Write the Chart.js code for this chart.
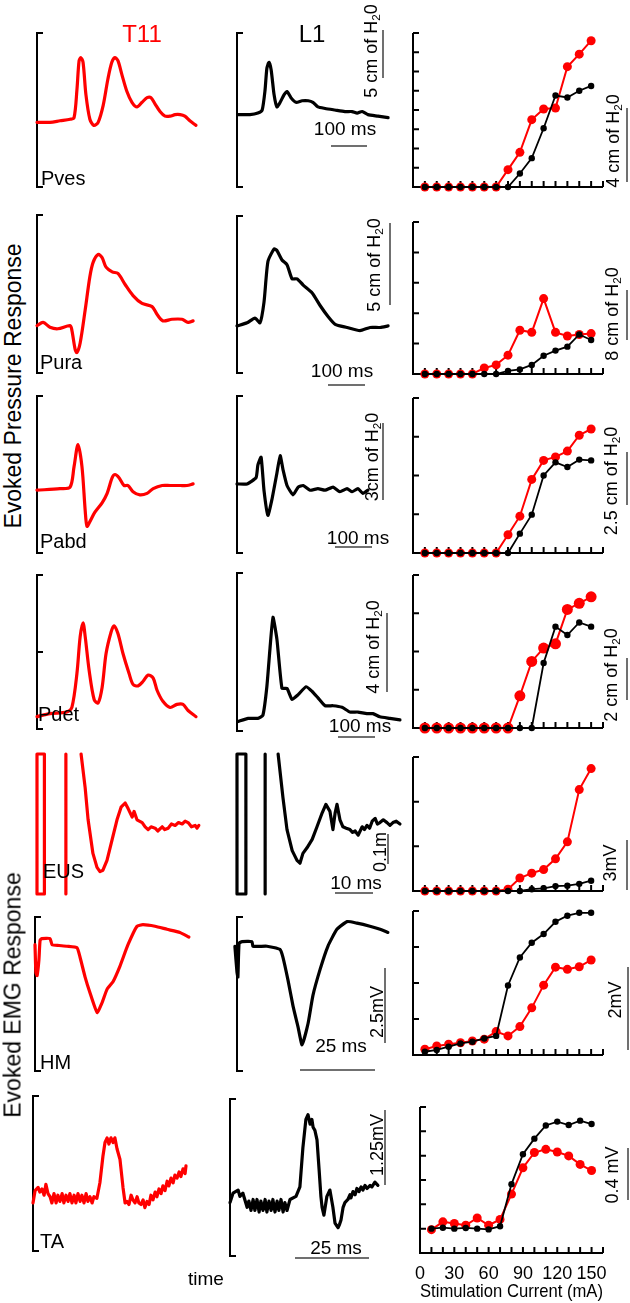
<!DOCTYPE html>
<html>
<head>
<meta charset="utf-8">
<script src="https://cdn.jsdelivr.net/npm/chart.js@4.4.0/dist/chart.umd.min.js"></script>
<style>
body { margin: 0; background: #fff; }
#fig { position: relative; width: 630px; height: 1303px; overflow: hidden; font-family: "Liberation Sans", Arial, sans-serif; color: #000; }
#fig canvas { position: absolute; }
.lbl { position: absolute; white-space: nowrap; line-height: 1; transform: translate(-50%, -50%); }
.lbl.left { transform: translate(0, -50%); }
.lbl.rot { transform: translate(-50%, -50%) rotate(-90deg); }
.bar { position: absolute; background: #707070; }
sub { font-size: 65%; vertical-align: -0.25em; line-height: 0; }
</style>
</head>
<body>
<div id="fig"></div>
<script>
const RED = '#ff0000';
const FONT = '"Liberation Sans", Arial, sans-serif';

// stimulation currents (mA) for the recruitment curves
const currents = [10, 20, 30, 40, 50, 60, 70, 80, 90, 100, 110, 120, 130, 140, 150];

// recruitment curves (units = y-axis tick divisions)
const pvesBlack = [0, 0, 0, 0, 0, 0, 0, 0, 0.7, 1.5, 3.05, 4.75, 4.65, 5.0, 5.25];
const pvesRed   = [0, 0, 0, 0, 0, 0, 0, 0.9, 1.8, 3.5, 4.05, 4.1, 6.25, 6.9, 7.6];
const puraBlack = [0, 0, 0, 0, 0, 0, 0, 0.1, 0.15, 0.3, 0.6, 0.77, 0.9, 1.3, 1.12];
const puraRed   = [0, 0, 0, 0, 0, 0.2, 0.3, 0.62, 1.44, 1.37, 2.48, 1.37, 1.25, 1.3, 1.33];
const pabdBlack = [0, 0, 0, 0, 0, 0, 0, 0, 0.5, 0.99, 2.0, 2.34, 2.22, 2.41, 2.39];
const pabdRed   = [0, 0, 0, 0, 0, 0, 0, 0.47, 0.95, 1.9, 2.39, 2.48, 2.63, 3.04, 3.2];
const pdetBlack = [0, 0, 0, 0, 0, 0, 0, 0, 0, 0, 1.7, 2.65, 2.43, 2.76, 2.65];
const pdetRed   = [0, 0, 0, 0, 0, 0, 0, 0, 0.84, 1.74, 2.09, 2.2, 3.1, 3.26, 3.43];
const eusBlack  = [0, 0, 0, 0, 0, 0, 0, 0, 0, 0.04, 0.06, 0.11, 0.12, 0.16, 0.23];
const eusRed    = [0, 0, 0, 0, 0, 0, 0, 0.04, 0.29, 0.4, 0.48, 0.72, 1.1, 2.27, 2.74];
const hmBlack   = [0.09, 0.14, 0.23, 0.32, 0.37, 0.46, 0.53, 1.93, 2.71, 3.12, 3.36, 3.7, 3.87, 3.95, 3.95];
const hmRed     = [0.16, 0.25, 0.3, 0.34, 0.39, 0.44, 0.65, 0.53, 0.79, 1.31, 1.94, 2.44, 2.38, 2.45, 2.64];
const taBlack   = [0, 0.04, 0, 0.03, 0, -0.03, 0.1, 1.83, 3.06, 3.7, 4.24, 4.4, 4.26, 4.44, 4.3];
const taRed     = [-0.04, 0.28, 0.21, 0.14, 0.44, 0.14, 0.38, 1.42, 2.5, 3.13, 3.26, 3.15, 2.99, 2.64, 2.39];

// example traces: [time (ms), amplitude (% of bracket)]
const pvesT11 = [[0,42],[36,42],[64,43],[92,44],[103,45],[111,63],[117,82],[122,84],[128,81],[136,60],[147,44],[158,40],[170,42],[184,53],[197,70],[208,81],[217,84],[225,82],[236,73],[250,62],[264,55],[278,52],[292,55],[306,58],[317,58],[328,54],[342,49],[356,46],[370,46],[384,47],[398,47],[411,46],[425,43],[442,40]];
const pvesL1 = [[3,47],[36,47],[58,48],[70,50],[78,63],[83,77],[89,81],[95,76],[103,60],[111,52],[120,55],[131,60],[139,62],[150,58],[164,55],[181,56],[198,56],[211,55],[225,52],[245,51],[272,50],[300,49],[320,49],[334,48],[348,49],[364,47],[392,46],[420,45]];
const puraT11 = [[0,30],[17,32],[36,29],[58,28],[92,30],[97,27],[106,15],[111,13],[120,19],[134,40],[147,61],[156,70],[170,75],[181,73],[192,67],[209,64],[225,63],[245,56],[267,49],[292,44],[320,42],[334,37],[350,33],[375,34],[403,34],[420,32],[434,33]];
const puraL1 = [[0,30],[28,32],[50,35],[64,32],[75,45],[86,71],[103,79],[111,78],[125,72],[139,69],[153,60],[167,60],[184,56],[209,51],[231,43],[253,36],[273,31],[306,29],[342,27],[370,29],[398,29],[420,30]];
const pabdT11 = [[0,40],[64,41],[92,42],[103,55],[114,69],[125,55],[134,27],[139,17],[147,20],[161,26],[181,32],[195,38],[209,48],[217,50],[228,48],[242,43],[253,43],[267,39],[286,37],[306,38],[323,41],[348,43],[370,43],[398,43],[417,43],[434,44]];
const pabdL1 = [[0,44],[28,44],[53,48],[58,56],[67,61],[75,40],[86,24],[97,34],[111,51],[120,62],[128,53],[139,43],[156,37],[170,42],[184,43],[203,40],[225,41],[245,40],[267,42],[286,39],[306,41],[320,39],[336,41],[350,38],[364,40]];
const pdetT11 = [[0,8],[36,10],[83,11],[97,14],[111,36],[120,60],[128,69],[134,60],[145,38],[159,19],[170,17],[181,27],[192,49],[206,63],[214,67],[225,62],[239,49],[256,36],[267,29],[281,28],[295,31],[309,35],[323,33],[334,25],[350,18],[370,14],[389,16],[406,16],[420,12],[442,8]];
const pdetL1 = [[3,6],[31,8],[58,8],[72,10],[83,28],[92,53],[100,72],[111,58],[125,27],[139,27],[153,20],[170,23],[192,28],[209,25],[225,21],[245,16],[267,16],[292,15],[314,12],[336,12],[361,11],[378,11],[397,9],[425,8],[453,7]];
const eusT11 = [[0,100],[2,100],[2,0],[0,0],[0,100],[4,null],[7.8,0],[7.8,100],[9,null],[11.9,100],[13,76],[13.8,53],[15.1,29],[16.2,19],[17,16],[17.8,17],[18.9,24],[20.3,39],[21.6,53],[22.7,62],[23.8,65],[24.6,61],[25.7,55],[26.2,59],[27,53],[28.4,51],[29.2,48],[30,46],[30.8,48],[31.9,47],[32.6,45],[33.8,48],[34.5,46],[35.4,47],[36.3,50],[37.3,49],[38.2,51],[39.2,50],[40,52],[40.8,51],[41.7,48],[42.7,49],[43.2,47],[43.7,49]];
const eusL1 = [[0,100],[2.4,100],[2.4,0],[0,0],[0,100],[5,null],[7.6,0],[7.6,100],[9,null],[11.1,100],[12.4,69],[13.5,46],[14.9,31],[16.2,24],[17,22],[17.8,29],[18.9,33],[20.3,39],[21.6,48],[23,58],[24,64],[25.1,59],[25.9,46],[26.5,58],[27,64],[27.8,53],[28.6,48],[29.5,47],[30.5,46],[31.2,44],[31.9,45],[32.7,42],[33.8,48],[34.4,46],[35.1,49],[35.8,47],[36.5,52],[37.3,54],[37.9,50],[38.6,51],[39.5,53],[40.5,51],[41.3,49],[42.1,51],[43,52],[44,50]];
const hmT11 = [[0,82],[0.3,64],[0.7,62],[1.3,72],[1.7,85],[2.3,86],[5,86],[5.7,82],[8,81.5],[10.7,81],[14,80],[15,74],[16.7,61],[18.3,51],[20.7,38],[22.3,44],[24,53],[26,58],[28.3,68],[31,82],[34,94],[36,95],[40,94],[44,92],[48.3,90],[51.3,87]];
const hmL1 = [[-0.7,81],[0,64],[0.3,61],[0.7,83],[1.7,84],[5,84],[5.3,81],[10,81],[14.3,79],[15.3,74],[17,59],[18.7,42],[20.3,29],[21.7,17],[23.7,31],[25.3,49],[27.7,66],[30.3,81],[33.3,92],[36.7,97],[40,96],[44.3,94],[47.7,92],[50.3,90]];
const taT11 = [[0,31],[0.7,39],[1.7,41],[2.3,38],[3,40],[3.7,36],[4.3,43],[5,37],[5.7,35],[6.3,31],[7,37],[7.7,31],[8.3,36],[9,32],[9.7,37],[10.3,31],[11,36],[11.7,32],[12.3,37],[13,31],[13.7,36],[14.3,31],[15,37],[15.7,32],[16.3,36],[17,31],[17.7,37],[18.3,32],[19,35],[19.7,31],[20.3,35],[21.3,34],[22.3,44],[23.3,61],[24,70],[24.7,73],[25.3,69],[26,73],[26.7,70],[27.3,73],[28,66],[29,59],[30,41],[30.7,31],[31.3,32],[32,30],[32.7,36],[33.3,33],[34,31],[34.7,35],[35.3,31],[36,30],[36.7,33],[37.3,28],[38,32],[38.7,30],[39.3,36],[40,33],[40.7,38],[41.3,35],[42,40],[42.7,37],[43.3,42],[44,39],[44.7,45],[45.3,42],[46,47],[46.7,44],[47.3,49],[48,47],[48.7,51],[49.3,48],[50,53],[50.7,50],[51,55]];
const taL1 = [[0,34],[1,40],[2.7,42],[3.3,38],[4.3,40],[5.7,31],[6.3,35],[7,29],[7.7,36],[8.3,29],[9,36],[9.7,28],[10.3,35],[11,29],[11.7,36],[12.3,28],[13,35],[13.7,29],[14.3,36],[15,28],[15.7,35],[16.3,29],[17,36],[17.7,28],[18.3,34],[19,29],[20,36],[22,38],[23.3,44],[24.3,69],[25.3,87],[26,90],[26.7,84],[27.3,87],[27.7,82],[28.3,80],[29,74],[29.7,55],[30.3,38],[30.7,31],[31.3,26],[32.3,38],[33.3,42],[34.3,31],[35,21],[36,18],[36.5,20],[37,23],[37.7,31],[38.3,34],[39.3,36],[40,39],[40.3,37],[41,41],[41.7,39],[42.3,43],[43,41],[43.7,44],[44.3,42],[45,45],[45.7,43],[46.7,45],[47.3,44],[48.3,47],[49.3,45]];

const fig = document.getElementById('fig');

// bracket-style vertical axis for the raw traces
const bracketPlugin = {
    id: 'bracket',
    beforeDatasetsDraw(chart, args, opts) {
        const { ctx, chartArea: a, scales: { y } } = chart;
        ctx.save();
        ctx.strokeStyle = '#000';
        ctx.lineWidth = 2;
        ctx.beginPath();
        ctx.moveTo(a.left + 6, a.top);
        ctx.lineTo(a.left, a.top);
        ctx.lineTo(a.left, a.bottom);
        ctx.lineTo(a.left + 6, a.bottom);
        if (opts.mid) {
            const ym = y.getPixelForValue(50);
            ctx.moveTo(a.left, ym);
            ctx.lineTo(a.left + 6, ym);
        }
        ctx.stroke();
        ctx.restore();
    }
};

// axes with inward ticks for the recruitment curves
const inwardAxes = {
    id: 'inwardAxes',
    beforeDatasetsDraw(chart) {
        const { ctx, chartArea: a, scales: { x, y } } = chart;
        ctx.save();
        ctx.strokeStyle = '#000';
        ctx.lineWidth = 2;
        ctx.beginPath();
        ctx.moveTo(a.left, a.top);
        ctx.lineTo(a.left, a.bottom);
        ctx.lineTo(a.right, a.bottom);
        for (let v = Math.floor(y.min) + 1; v <= y.max; v++) {
            const py = y.getPixelForValue(v);
            ctx.moveTo(a.left, py);
            ctx.lineTo(a.left + 6, py);
        }
        for (let v = 10; v <= x.max; v += 10) {
            const px = x.getPixelForValue(v);
            ctx.moveTo(px, a.bottom);
            ctx.lineTo(px, a.bottom - 6);
        }
        ctx.stroke();
        ctx.restore();
    }
};

const TRACE_W = 175, PAD = 8;
const tracePanels = [
    { data: pvesT11, color: RED, left: 37, top: 33, bottom: 187, msPerPx: 2.78, smooth: 0.3 },
    { data: pvesL1, color: '#000', left: 237, top: 33, bottom: 187, msPerPx: 2.78, smooth: 0.2 },
    { data: puraT11, color: RED, left: 37, top: 215, bottom: 373, msPerPx: 2.78, smooth: 0.3 },
    { data: puraL1, color: '#000', left: 237, top: 216, bottom: 373, msPerPx: 2.78, smooth: 0.2 },
    { data: pabdT11, color: RED, left: 37, top: 396, bottom: 553, msPerPx: 2.78, smooth: 0.3 },
    { data: pabdL1, color: '#000', left: 237, top: 396, bottom: 553, msPerPx: 2.78, smooth: 0.15 },
    { data: pdetT11, color: RED, left: 37, top: 575, bottom: 729, msPerPx: 2.78, smooth: 0.3, mid: true },
    { data: pdetL1, color: '#000', left: 237, top: 573, bottom: 731, msPerPx: 2.78, smooth: 0.15 },
    { data: eusT11, color: RED, left: 37, top: 754, bottom: 894, msPerPx: 0.27, smooth: 0 },
    { data: eusL1, color: '#000', left: 237, top: 754, bottom: 894, msPerPx: 0.27, smooth: 0 },
    { data: hmT11, color: RED, left: 35, top: 917, bottom: 1071, msPerPx: 1 / 3, smooth: 0.15 },
    { data: hmL1, color: '#000', left: 237, top: 917, bottom: 1071, msPerPx: 1 / 3, smooth: 0.15 },
    { data: taT11, color: RED, left: 33, top: 1096, bottom: 1251, msPerPx: 1 / 3, smooth: 0 },
    { data: taL1, color: '#000', left: 230, top: 1099, bottom: 1256, msPerPx: 1 / 3, smooth: 0 }
];

function addCanvas(left, top, w, h) {
    const c = document.createElement('canvas');
    c.width = w;
    c.height = h;
    c.style.left = left + 'px';
    c.style.top = top + 'px';
    fig.appendChild(c);
    return c;
}

function makeTrace(p) {
    const c = addCanvas(p.left - PAD, p.top - PAD, TRACE_W + 2 * PAD, p.bottom - p.top + 2 * PAD);
    new Chart(c, {
        type: 'line',
        data: {
            datasets: [{
                data: p.data.map(d => ({ x: d[0], y: d[1] })),
                borderColor: p.color,
                borderWidth: 3.2,
                borderJoinStyle: 'round',
                borderCapStyle: 'round',
                pointRadius: 0,
                tension: p.smooth,
                clip: false,
                spanGaps: false
            }]
        },
        options: {
            responsive: false,
            animation: false,
            events: [],
            layout: { padding: PAD },
            plugins: { legend: { display: false }, tooltip: { enabled: false }, bracket: { mid: !!p.mid } },
            scales: {
                x: { type: 'linear', display: false, min: 0, max: TRACE_W * p.msPerPx },
                y: { display: false, min: 0, max: 100 }
            }
        },
        plugins: [bracketPlugin]
    });
}

const dosePanels = [
    { black: pvesBlack, red: pvesRed, top: 33, bottom: 187, yMin: 0, yMax: 8, redR: 4.5 },
    { black: puraBlack, red: puraRed, top: 222, bottom: 374, yMin: 0, yMax: 5, redR: 4.5 },
    { black: pabdBlack, red: pabdRed, top: 398, bottom: 553, yMin: 0, yMax: 4, redR: 4.5 },
    { black: pdetBlack, red: pdetRed, top: 575, bottom: 728, yMin: 0, yMax: 4, redR: 5.5 },
    { black: eusBlack, red: eusRed, top: 757, bottom: 891, yMin: 0, yMax: 3, redR: 4.5 },
    { black: hmBlack, red: hmRed, top: 911, bottom: 1055, yMin: 0, yMax: 4, redR: 4.5 },
    { black: taBlack, red: taRed, top: 1107, bottom: 1253, yMin: -1, yMax: 5, redR: 4.5, axis: true }
];

const DOSE_L = 413, DOSE_R = 603, DOSE_CL = 405;

function makeDose(p) {
    const axisH = p.axis ? 1303 - p.bottom : 0;
    const c = addCanvas(DOSE_CL, p.top - PAD, 630 - DOSE_CL, p.bottom - p.top + PAD + (p.axis ? axisH : PAD));
    const xOpts = { type: 'linear', min: 0, max: 160, display: false };
    if (p.axis) {
        Object.assign(xOpts, {
            display: true,
            grid: { display: false, drawTicks: false },
            border: { display: false },
            ticks: {
                stepSize: 10, autoSkip: false, maxRotation: 0, padding: 10, color: '#000',
                font: { family: FONT, size: 18 },
                callback: v => (v % 30 === 0 && v <= 150) ? v : ''
            },
            title: { display: true, text: 'Stimulation Current (mA)', color: '#000', padding: 0, font: { family: FONT, size: 19 } },
            afterFit: s => { s.height = axisH; }
        });
    }
    new Chart(c, {
        type: 'line',
        data: {
            datasets: [
                {
                    data: currents.map((x, i) => ({ x, y: p.black[i] })),
                    borderColor: '#000', backgroundColor: '#000', borderWidth: 1.8,
                    pointRadius: 3.2, pointBorderWidth: 0, clip: false
                },
                {
                    data: currents.map((x, i) => ({ x, y: p.red[i] })),
                    borderColor: RED, backgroundColor: RED, borderWidth: 2,
                    pointRadius: p.redR, pointBorderWidth: 0, clip: false
                }
            ]
        },
        options: {
            responsive: false,
            animation: false,
            events: [],
            layout: { padding: { left: DOSE_L - DOSE_CL, right: 630 - DOSE_R, top: PAD, bottom: p.axis ? 0 : PAD } },
            plugins: { legend: { display: false }, tooltip: { enabled: false } },
            scales: {
                x: xOpts,
                y: { display: false, min: p.yMin, max: p.yMax }
            }
        },
        plugins: [inwardAxes]
    });
}

tracePanels.forEach(makeTrace);
dosePanels.forEach(makeDose);

// scale bars
const H2O = 'H<sub>2</sub>0';
const vBars = [
    [383, 30, 78], [390, 223, 305], [383, 423, 500], [387, 613, 692], [388, 834, 864], [385, 968, 1043], [385, 1110, 1185],
    [627, 108, 182], [627, 290, 340], [627, 452, 505], [627, 658, 700], [627, 840, 890], [628, 967, 1050], [628, 1148, 1200]
];
const hBars = [
    [146, 331, 367], [385, 328, 365], [547, 335, 372], [737, 338, 375], [893, 335, 373], [1070, 300, 375], [1258, 295, 369]
];
vBars.forEach(([x, y1, y2]) => {
    const d = document.createElement('div');
    d.className = 'bar';
    d.style.cssText = `left:${x - 0.75}px;top:${y1}px;width:1.5px;height:${y2 - y1}px`;
    fig.appendChild(d);
});
hBars.forEach(([y, x1, x2]) => {
    const d = document.createElement('div');
    d.className = 'bar';
    d.style.cssText = `left:${x1}px;top:${y - 0.75}px;width:${x2 - x1}px;height:1.5px`;
    fig.appendChild(d);
});

// text
const labels = [
    { html: 'T11', x: 142, y: 34, size: 24, color: RED },
    { html: 'L1', x: 312, y: 34, size: 24 },
    { html: 'Pves', x: 41, y: 178, size: 20, cls: 'left' },
    { html: 'Pura', x: 40, y: 362, size: 20, cls: 'left' },
    { html: 'Pabd', x: 40, y: 541, size: 20, cls: 'left' },
    { html: 'Pdet', x: 38, y: 714, size: 20, cls: 'left' },
    { html: 'EUS', x: 43, y: 871, size: 20, cls: 'left' },
    { html: 'HM', x: 40, y: 1062, size: 20, cls: 'left' },
    { html: 'TA', x: 40, y: 1241, size: 20, cls: 'left' },
    { html: 'Evoked Pressure Response', x: 13, y: 386, size: 23, cls: 'rot' },
    { html: 'Evoked EMG Response', x: 13, y: 995, size: 23, cls: 'rot' },
    { html: '5 cm of ' + H2O, x: 371, y: 51, size: 18, cls: 'rot' },
    { html: '5 cm of ' + H2O, x: 374, y: 265, size: 18, cls: 'rot' },
    { html: '3cm of ' + H2O, x: 372, y: 457, size: 18, cls: 'rot' },
    { html: '4 cm of ' + H2O, x: 373, y: 647, size: 18, cls: 'rot' },
    { html: '0.1m', x: 380, y: 852, size: 18, cls: 'rot' },
    { html: '2.5mV', x: 377, y: 1012, size: 18, cls: 'rot' },
    { html: '1.25mV', x: 377, y: 1145, size: 18, cls: 'rot' },
    { html: '4 cm of ' + H2O, x: 613, y: 141, size: 18, cls: 'rot' },
    { html: '8 cm of ' + H2O, x: 612, y: 314, size: 18, cls: 'rot' },
    { html: '2.5 cm of ' + H2O, x: 611, y: 481, size: 18, cls: 'rot' },
    { html: '2 cm of ' + H2O, x: 611, y: 675, size: 18, cls: 'rot' },
    { html: '3mV', x: 610, y: 863, size: 18, cls: 'rot' },
    { html: '2mV', x: 615, y: 1000, size: 18, cls: 'rot' },
    { html: '0.4 mV', x: 612, y: 1175, size: 18, cls: 'rot' },
    { html: '100 ms', x: 345, y: 128, size: 19 },
    { html: '100 ms', x: 342, y: 370, size: 19 },
    { html: '100 ms', x: 358, y: 537, size: 19 },
    { html: '100 ms', x: 360, y: 725, size: 19 },
    { html: '10 ms', x: 356, y: 882, size: 19 },
    { html: '25 ms', x: 341, y: 1045, size: 19 },
    { html: '25 ms', x: 336, y: 1247, size: 19 },
    { html: 'time', x: 206, y: 1278, size: 19 }
];
labels.forEach(l => {
    const d = document.createElement('div');
    d.className = 'lbl' + (l.cls ? ' ' + l.cls : '');
    d.innerHTML = l.html;
    d.style.left = l.x + 'px';
    d.style.top = l.y + 'px';
    d.style.fontSize = l.size + 'px';
    if (l.color) d.style.color = l.color;
    fig.appendChild(d);
});
</script>
</body>
</html>
